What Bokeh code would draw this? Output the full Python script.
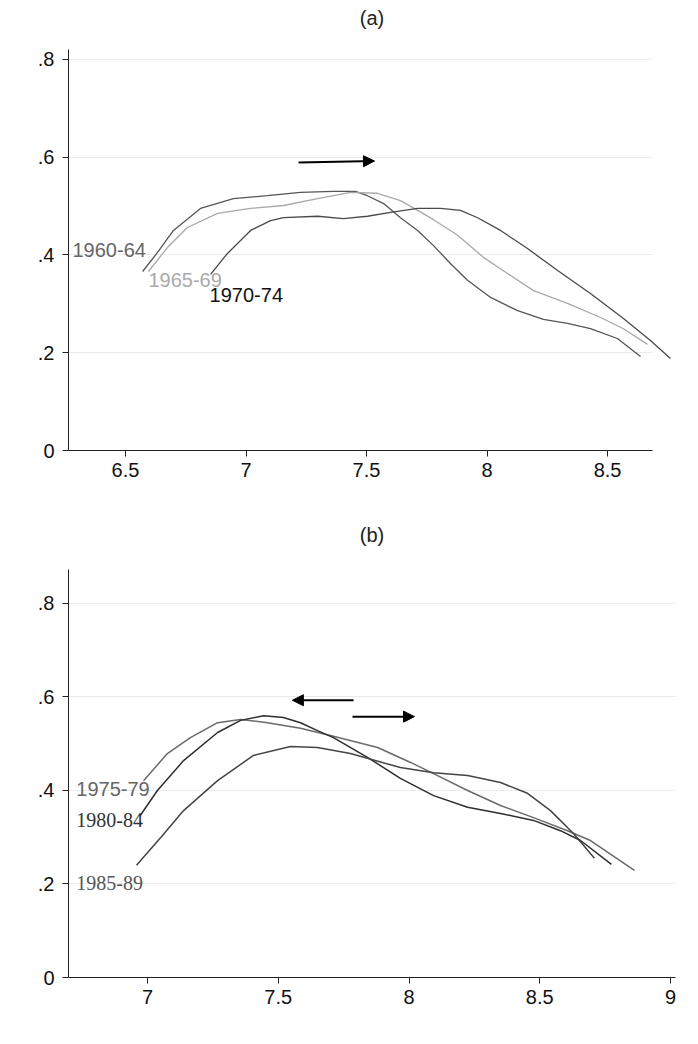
from bokeh.plotting import figure
from bokeh.models import Range1d, FixedTicker, Arrow, NormalHead, Title
from bokeh.layouts import column
from bokeh.embed import file_html
from bokeh.resources import INLINE
from bokeh.core.properties import value

# ---------------- Panel (a) data ----------------
a_1960_x = [6.571, 6.633, 6.699, 6.811, 6.948, 7.089, 7.226, 7.363, 7.454, 7.504, 7.571, 7.641,
            7.712, 7.778, 7.849, 7.919, 8.015, 8.127, 8.234, 8.334, 8.429, 8.541, 8.637]
a_1960_y = [0.366, 0.405, 0.450, 0.495, 0.515, 0.521, 0.528, 0.530, 0.530, 0.521, 0.505, 0.476,
            0.450, 0.419, 0.382, 0.348, 0.313, 0.286, 0.268, 0.260, 0.249, 0.229, 0.192]

a_1965_x = [6.595, 6.674, 6.757, 6.882, 7.019, 7.156, 7.297, 7.434, 7.546, 7.641, 7.712, 7.778,
            7.878, 7.985, 8.085, 8.193, 8.334, 8.471, 8.566, 8.666]
a_1965_y = [0.366, 0.415, 0.456, 0.485, 0.495, 0.501, 0.515, 0.528, 0.526, 0.511, 0.491, 0.472,
            0.440, 0.395, 0.362, 0.327, 0.301, 0.272, 0.249, 0.217]

a_1970_x = [6.853, 6.923, 7.019, 7.102, 7.156, 7.297, 7.405, 7.504, 7.600, 7.712, 7.807, 7.890,
            7.961, 8.056, 8.168, 8.293, 8.429, 8.566, 8.678, 8.761]
a_1970_y = [0.360, 0.403, 0.450, 0.470, 0.476, 0.479, 0.474, 0.479, 0.487, 0.495, 0.495, 0.491,
            0.476, 0.450, 0.413, 0.368, 0.321, 0.270, 0.225, 0.188]

a_labels = ["1960-64", "1965-69", "1970-74"]
a_label_x = [6.28, 6.595, 6.849]
a_label_y = [0.409, 0.348, 0.319]
a_label_colors = ["#666666", "#aaaaaa", "#111111"]

a_xticks = [6.5, 7, 7.5, 8, 8.5]
a_xtick_labels = ["6.5", "7", "7.5", "8", "8.5"]

# arrow (a): start x, end x, start y, end y
a_arrow = [7.218, 7.533, 0.589, 0.592]

# ---------------- Panel (b) data ----------------
b_1975_x = [6.985, 7.076, 7.164, 7.268, 7.356, 7.459, 7.585, 7.711, 7.880, 8.006, 8.094, 8.224,
            8.350, 8.476, 8.606, 8.694, 8.862]
b_1975_y = [0.421, 0.479, 0.513, 0.545, 0.552, 0.545, 0.533, 0.516, 0.492, 0.460, 0.436, 0.400,
            0.368, 0.342, 0.314, 0.293, 0.229]

b_1980_x = [6.973, 7.038, 7.138, 7.268, 7.356, 7.444, 7.520, 7.585, 7.650, 7.711, 7.841, 7.967,
            8.094, 8.224, 8.350, 8.476, 8.579, 8.656, 8.774]
b_1980_y = [0.347, 0.400, 0.464, 0.524, 0.550, 0.560, 0.556, 0.545, 0.528, 0.513, 0.471, 0.426,
            0.389, 0.364, 0.351, 0.336, 0.314, 0.293, 0.242]

b_1985_x = [6.958, 7.050, 7.138, 7.268, 7.405, 7.547, 7.650, 7.776, 7.967, 8.094, 8.224, 8.350,
            8.453, 8.541, 8.629, 8.709]
b_1985_y = [0.240, 0.299, 0.357, 0.421, 0.475, 0.494, 0.492, 0.479, 0.449, 0.438, 0.432, 0.417,
            0.394, 0.357, 0.308, 0.255]

b_labels = ["1975-79", "1980-84", "1985-89"]
b_label_x = [6.728, 6.728, 6.728]
b_label_y = [0.404, 0.336, 0.203]
b_label_colors = ["#666666", "#333333", "#555555"]
b_label_fonts = ["Liberation Sans", "Liberation Serif", "Liberation Serif"]

b_xticks = [7, 7.5, 8, 8.5, 9]
b_xtick_labels = ["7", "7.5", "8", "8.5", "9"]

b_arrow_left = [7.788, 7.554, 0.593, 0.593]
b_arrow_right = [7.784, 8.021, 0.558, 0.558]

yticks = [0, 0.2, 0.4, 0.6, 0.8]
ytick_labels = ["0", ".2", ".4", ".6", ".8"]

titles = ["(a)", "(b)"]

FONT = "Liberation Sans"
FS = "20px"


def make_fig(width, height, xr, yr, axis_bounds, mb):
    p = figure(width=width, height=height, x_range=Range1d(*xr), y_range=Range1d(*yr),
               output_backend="svg", toolbar_location=None, title=None,
               min_border_left=mb[0], min_border_right=mb[1],
               min_border_top=mb[2], min_border_bottom=mb[3])
    p.outline_line_color = None
    p.background_fill_color = "white"
    p.border_fill_color = "white"
    for ax in (p.xaxis[0], p.yaxis[0]):
        ax.axis_line_color = "#222222"
        ax.axis_line_width = 1
        ax.major_tick_line_color = "#222222"
        ax.major_tick_out = 6
        ax.major_tick_in = 0
        ax.minor_tick_line_color = None
        ax.major_label_text_font = FONT
        ax.major_label_text_font_size = FS
        ax.major_label_text_color = "#111111"
    p.xaxis[0].major_label_standoff = 6
    p.yaxis[0].major_label_standoff = 8
    p.xaxis[0].bounds = axis_bounds
    p.yaxis[0].ticker = FixedTicker(ticks=yticks)
    p.yaxis[0].major_label_overrides = {t: l for t, l in zip(yticks, ytick_labels)}
    p.xgrid.visible = False
    p.ygrid.ticker = FixedTicker(ticks=yticks[1:])
    p.ygrid.grid_line_color = "#ebebeb"
    p.ygrid.grid_line_width = 1
    if hasattr(p.ygrid[0], "cross_bounds"):
        p.ygrid[0].cross_bounds = axis_bounds
    return p


def add_title(p, text, gap):
    # a near-invisible spacer title next to the frame pushes the real title upward
    p.add_layout(Title(text=" ", text_font_size="1px", standoff=gap, align="center"), "above")
    p.add_layout(Title(text=text, text_font=FONT, text_font_size=FS, text_font_style="normal",
                       text_color="#222222", align="center", standoff=0), "above")


def add_arrow(p, spec):
    p.add_layout(Arrow(x_start=spec[0], x_end=spec[1], y_start=spec[2], y_end=spec[3],
                       line_color="black", line_width=2,
                       end=NormalHead(size=11, fill_color="black", line_color="black")))


# ---------------- Panel (a) ----------------
pa = make_fig(696, 515, (6.2635, 8.782), (0, 0.820), (6.2635, 8.687), (68, 21, 49, 65))
pa.xaxis[0].ticker = FixedTicker(ticks=a_xticks)
pa.xaxis[0].major_label_overrides = {t: l for t, l in zip(a_xticks, a_xtick_labels)}
pa.line(a_1960_x, a_1960_y, line_color="#555555", line_width=1.3)
pa.line(a_1965_x, a_1965_y, line_color="#a8a8a8", line_width=1.3)
pa.line(a_1970_x, a_1970_y, line_color="#4a4a4a", line_width=1.3)
for t, x, y, c in zip(a_labels, a_label_x, a_label_y, a_label_colors):
    pa.text(x=[x], y=[y], text=[t], text_color=c, text_font=value(FONT),
            text_font_size=value(FS), text_align="left", text_baseline="middle")
add_arrow(pa, a_arrow)
add_title(pa, titles[0], 18)

# ---------------- Panel (b) ----------------
# plot areas of the two panels are aligned by the column layout (68..675 px)
pb = make_fig(696, 521, (6.698, 9.019), (0, 0.8727), (6.698, 9.019), (67, 21, 54, 59))
pb.xaxis[0].ticker = FixedTicker(ticks=b_xticks)
pb.xaxis[0].major_label_overrides = {t: l for t, l in zip(b_xticks, b_xtick_labels)}
pb.line(b_1975_x, b_1975_y, line_color="#6a6a6a", line_width=1.5)
pb.line(b_1980_x, b_1980_y, line_color="#2e2e2e", line_width=1.5)
pb.line(b_1985_x, b_1985_y, line_color="#444444", line_width=1.5)
for t, x, y, c, f in zip(b_labels, b_label_x, b_label_y, b_label_colors, b_label_fonts):
    pb.text(x=[x], y=[y], text=[t], text_color=c, text_font=value(f),
            text_font_size=value(FS), text_align="left", text_baseline="middle")
add_arrow(pb, b_arrow_left)
add_arrow(pb, b_arrow_right)
add_title(pb, titles[1], 21)

layout = column(pa, pb, spacing=0)
open("out.html", "w").write(file_html(layout, INLINE))
